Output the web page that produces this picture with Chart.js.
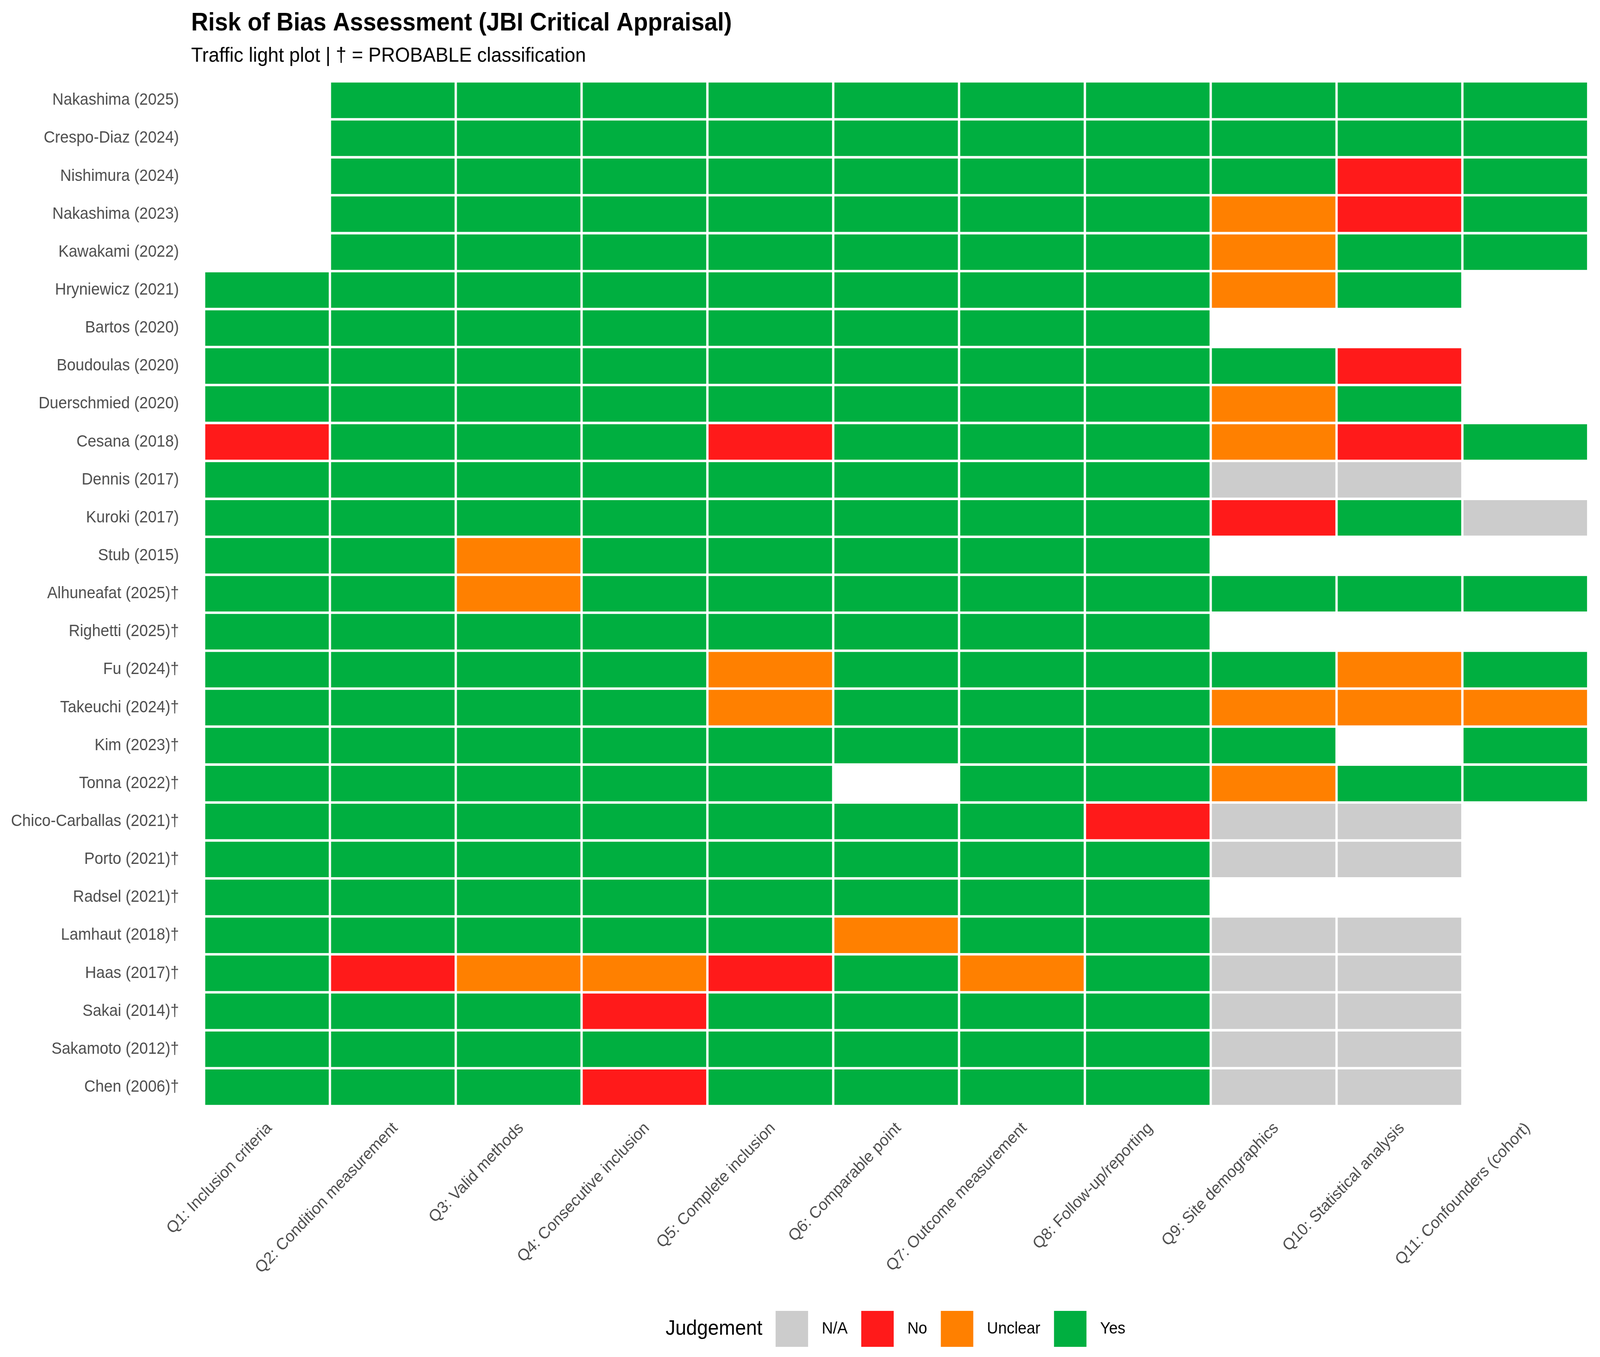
<!DOCTYPE html>
<html>
<head>
<meta charset="utf-8">
<title>Risk of Bias Assessment (JBI Critical Appraisal)</title>
<script src="https://cdn.jsdelivr.net/npm/chart.js@4.4.1/dist/chart.umd.min.js"></script>
<style>
  html, body { margin: 0; padding: 0; background: #ffffff; overflow: hidden; }
  /* the chart is drawn at 4336 x 3473 and fitted to whatever viewport we get */
  #chart { display: block; width: 100vw !important; height: 100vh !important; }
</style>
</head>
<body>
<canvas id="chart" width="4336" height="3473"></canvas>
<script>
const studies = [
  'Nakashima (2025)', 'Crespo-Diaz (2024)', 'Nishimura (2024)', 'Nakashima (2023)',
  'Kawakami (2022)', 'Hryniewicz (2021)', 'Bartos (2020)', 'Boudoulas (2020)',
  'Duerschmied (2020)', 'Cesana (2018)', 'Dennis (2017)', 'Kuroki (2017)', 'Stub (2015)',
  'Alhuneafat (2025)†', 'Righetti (2025)†', 'Fu (2024)†', 'Takeuchi (2024)†', 'Kim (2023)†',
  'Tonna (2022)†', 'Chico-Carballas (2021)†', 'Porto (2021)†', 'Radsel (2021)†',
  'Lamhaut (2018)†', 'Haas (2017)†', 'Sakai (2014)†', 'Sakamoto (2012)†', 'Chen (2006)†',
];

const questions = [
  'Q1: Inclusion criteria', 'Q2: Condition measurement', 'Q3: Valid methods',
  'Q4: Consecutive inclusion', 'Q5: Complete inclusion', 'Q6: Comparable point',
  'Q7: Outcome measurement', 'Q8: Follow-up/reporting', 'Q9: Site demographics',
  'Q10: Statistical analysis', 'Q11: Confounders (cohort)',
];

const judgements = ['N/A', 'No', 'Unclear', 'Yes'];
const judgementColors = ['#CCCCCC', '#FF1A1A', '#FF8000', '#00AF40'];

// one letter per question Q1..Q11: Y = Yes, N = No, U = Unclear, A = N/A, - = not rated
const ratings = [
  '-YYYYYYYYYY', // Nakashima (2025)
  '-YYYYYYYYYY', // Crespo-Diaz (2024)
  '-YYYYYYYYNY', // Nishimura (2024)
  '-YYYYYYYUNY', // Nakashima (2023)
  '-YYYYYYYUYY', // Kawakami (2022)
  'YYYYYYYYUY-', // Hryniewicz (2021)
  'YYYYYYYY---', // Bartos (2020)
  'YYYYYYYYYN-', // Boudoulas (2020)
  'YYYYYYYYUY-', // Duerschmied (2020)
  'NYYYNYYYUNY', // Cesana (2018)
  'YYYYYYYYAA-', // Dennis (2017)
  'YYYYYYYYNYA', // Kuroki (2017)
  'YYUYYYYY---', // Stub (2015)
  'YYUYYYYYYYY', // Alhuneafat (2025)†
  'YYYYYYYY---', // Righetti (2025)†
  'YYYYUYYYYUY', // Fu (2024)†
  'YYYYUYYYUUU', // Takeuchi (2024)†
  'YYYYYYYYY-Y', // Kim (2023)†
  'YYYYY-YYUYY', // Tonna (2022)†
  'YYYYYYYNAA-', // Chico-Carballas (2021)†
  'YYYYYYYYAA-', // Porto (2021)†
  'YYYYYYYY---', // Radsel (2021)†
  'YYYYYUYYAA-', // Lamhaut (2018)†
  'YNUUNYUYAA-', // Haas (2017)†
  'YYYNYYYYAA-', // Sakai (2014)†
  'YYYYYYYYAA-', // Sakamoto (2012)†
  'YYYNYYYYAA-', // Chen (2006)†
];

const codeToJudgement = { A: 'N/A', N: 'No', U: 'Unclear', Y: 'Yes' };

const FONT = "'Liberation Sans', Arial, Helvetica, sans-serif";
const AXIS_GREY = '#4D4D4D';
const KEY_INSET = 16; // white stroke eats this much of each legend key, leaves a gap before the text

function judgementOf(studyIdx, qIdx) {
  return codeToJudgement[ratings[studyIdx][qIdx]] || null;
}

function colourOf(j) {
  const k = judgements.indexOf(j);
  return k < 0 ? 'rgba(0,0,0,0)' : judgementColors[k];
}

// one floating-bar dataset per question column; cells spanning [q, q + 1]
const datasets = questions.map((q, qi) => ({
  label: q,
  data: studies.map((s, si) => (judgementOf(si, qi) ? [qi, qi + 1] : null)),
  backgroundColor: studies.map((s, si) => colourOf(judgementOf(si, qi))),
  borderColor: '#FFFFFF',
  borderWidth: 3.5,
  borderSkipped: false,
  barPercentage: 1,
  categoryPercentage: 1,
  grouped: false,
}));

// legend heading, drawn left of the first key (first legend item is an empty spacer)
const legendHeading = {
  id: 'legendHeading',
  afterDraw(chart) {
    const boxes = chart.legend && chart.legend.legendHitBoxes;
    if (!boxes || boxes.length < 2) return;
    const first = boxes[1];
    const ctx = chart.ctx;
    ctx.save();
    ctx.font = `53px ${FONT}`;
    ctx.fillStyle = '#000000';
    ctx.textAlign = 'right';
    ctx.textBaseline = 'middle';
    ctx.fillText('Judgement', first.left + KEY_INSET - 36, first.top + first.height / 2);
    ctx.restore();
  },
};

new Chart(document.getElementById('chart'), {
  type: 'bar',
  data: { labels: studies, datasets },
  plugins: [legendHeading],
  options: {
    indexAxis: 'y',
    responsive: false,
    animation: false,
    devicePixelRatio: 1,
    layout: { padding: { top: 0, right: 32, bottom: 0, left: 30 } },
    scales: {
      x: {
        type: 'linear',
        min: -0.1027,
        max: 11,
        grid: { display: false, drawTicks: false },
        border: { display: false },
        // one tick per column, nudged so the rotated label ends just right of the centre
        afterBuildTicks(axis) {
          axis.ticks = questions.map((q, i) => ({ value: i + 0.52 }));
        },
        afterFit(axis) { axis.height = 487; },
        ticks: {
          autoSkip: false,
          minRotation: 45,
          maxRotation: 45,
          padding: 32,
          color: AXIS_GREY,
          font: { family: FONT, size: 42 },
          callback: (value, index) => questions[index],
        },
      },
      y: {
        type: 'category',
        grid: { display: false, drawTicks: false },
        border: { display: false },
        afterFit(axis) { axis.width = 488; },
        ticks: {
          autoSkip: false,
          padding: 33,
          color: AXIS_GREY,
          font: { family: FONT, size: 42 },
        },
      },
    },
    plugins: {
      title: {
        display: true,
        text: 'Risk of Bias Assessment (JBI Critical Appraisal)',
        align: 'start',
        fullSize: false,
        color: '#000000',
        font: { family: FONT, size: 64, weight: 'bold', lineHeight: 1.2 },
        padding: { top: 22, bottom: 14 },
      },
      subtitle: {
        display: true,
        text: 'Traffic light plot | † = PROBABLE classification',
        align: 'start',
        fullSize: false,
        color: '#000000',
        font: { family: FONT, size: 52, lineHeight: 1.2 },
        padding: { top: 0, bottom: 33 },
      },
      legend: {
        position: 'bottom',
        fullSize: false,
        onClick: null,
        labels: {
          boxWidth: 88 + 2 * KEY_INSET,
          boxHeight: 92 + 2 * KEY_INSET,
          padding: 21,
          color: '#000000',
          font: { family: FONT, size: 42 },
          generateLabels: () => [
            {
              text: ' '.repeat(13),
              fillStyle: 'rgba(0,0,0,0)',
              strokeStyle: 'rgba(0,0,0,0)',
              fontColor: 'rgba(0,0,0,0)',
              lineWidth: 0,
              hidden: false,
            },
            ...judgements.map((j, i) => ({
              text: j,
              fillStyle: judgementColors[i],
              strokeStyle: '#FFFFFF',
              fontColor: '#000000',
              lineWidth: 2 * KEY_INSET,
              hidden: false,
            })),
          ],
        },
      },
      tooltip: { enabled: false },
    },
  },
});
</script>
</body>
</html>
